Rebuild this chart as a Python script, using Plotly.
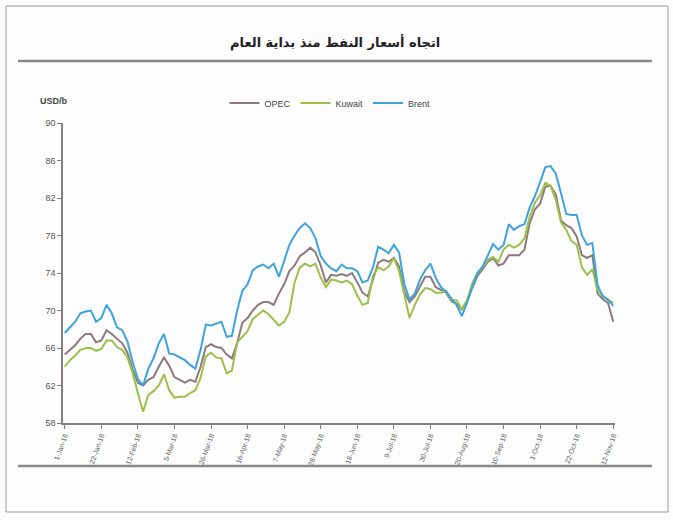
import pandas as pd
import plotly.graph_objects as go

# Dates: one reading every 3 days from 1 Jan 2018
dates = pd.date_range("2018-01-01", periods=106, freq="3D")

brent = [67.6, 68.2, 68.8, 69.7, 69.9, 70.0, 68.8, 69.2, 70.6, 69.7,
         68.2, 67.9, 66.7, 64.5, 62.7, 62.0, 63.8, 64.9, 66.5, 67.5,
         65.4, 65.3, 65.0, 64.7, 64.2, 63.8, 65.8, 68.5, 68.4, 68.6,
         68.8, 67.2, 67.3, 70.0, 72.1, 72.8, 74.3, 74.7, 74.9, 74.5,
         75.0, 73.6, 75.3, 77.0, 78.0, 78.8, 79.3, 78.8, 77.7, 75.8,
         75.0, 74.5, 74.2, 74.9, 74.5, 74.5, 74.2, 73.0, 73.2, 74.6,
         76.8, 76.5, 76.1, 77.0, 76.2, 72.8, 71.2, 71.8, 73.3, 74.3,
         75.0, 73.5, 72.5, 72.0, 71.3, 70.6, 69.4, 70.8, 72.5, 74.0,
         74.7, 75.9, 77.1, 76.5, 77.0, 79.2, 78.6, 79.0, 79.2, 81.0,
         82.2, 83.7, 85.3, 85.4, 84.6, 82.5, 80.3, 80.2, 80.2, 78.0,
         77.0, 77.2, 72.7, 71.5, 71.1, 70.5]

opec = [65.3, 65.8, 66.3, 67.0, 67.5, 67.5, 66.6, 66.8, 67.9, 67.5,
        67.0, 66.5, 65.5, 63.7, 62.3, 62.0, 62.6, 62.9, 64.0, 65.0,
        64.1, 62.9, 62.6, 62.3, 62.6, 62.4, 64.0, 66.1, 66.4, 66.1,
        66.0, 65.3, 64.9, 66.5, 68.7, 69.2, 70.0, 70.6, 70.9, 70.9,
        70.6, 71.8, 72.8, 74.2, 74.8, 75.8, 76.2, 76.7, 76.2, 74.8,
        73.0, 73.8, 73.7, 73.9, 73.7, 74.0, 73.0, 71.9, 71.5, 73.3,
        75.1, 75.4, 75.2, 75.6, 74.7, 72.0, 70.9, 71.5, 72.5, 73.6,
        73.6, 72.5, 72.2, 71.9, 71.0, 70.7, 70.1, 71.0, 72.4, 73.7,
        74.4, 75.2, 75.6, 74.8, 75.0, 75.9, 75.9, 75.9, 76.5, 79.3,
        80.8, 81.4, 83.2, 83.3, 82.4, 79.6, 79.1, 78.8, 77.9, 75.9,
        75.6, 75.9, 71.8, 71.2, 70.8, 68.8]

kuwait = [64.0, 64.7, 65.2, 65.8, 66.0, 66.0, 65.7, 65.9, 66.8, 66.8,
          66.1, 65.8, 65.0, 63.3, 61.2, 59.2, 61.0, 61.4, 62.0, 63.2,
          61.5, 60.7, 60.8, 60.8, 61.2, 61.5, 62.8, 65.1, 65.5, 65.0,
          64.9, 63.3, 63.6, 66.6, 67.2, 67.8, 69.1, 69.6, 70.0, 69.6,
          69.0, 68.4, 68.8, 69.8, 73.0, 74.6, 75.0, 74.7, 75.0, 73.5,
          72.5, 73.3, 73.2, 73.0, 73.2, 72.8, 71.6, 70.6, 70.8, 73.7,
          74.6, 74.3, 74.7, 75.6, 74.2, 71.6, 69.2, 70.6, 71.7, 72.4,
          72.3, 71.9, 71.9, 72.1, 71.1, 71.1, 70.1, 71.1, 72.9, 74.0,
          74.6, 75.4, 75.7, 75.2, 76.5, 77.0, 76.7, 77.0, 77.7, 80.0,
          81.5, 82.3, 83.6, 83.3, 81.8, 79.4, 78.6, 77.4, 77.0, 74.6,
          73.8, 74.4, 72.2, 71.6, 71.2, 70.8]

series_names = ["OPEC", "Kuwait", "Brent"]
series_colors = ["#8c7a7e", "#9dc04a", "#3fa3dc"]
y_ticks = [58, 62, 66, 70, 74, 78, 82, 86, 90]

title_text = "اتجاه أسعار النفط منذ بداية العام"
unit_text = "USD/b"

W, H = 673, 520
L, R, T, B = 63, 615, 123, 423  # plot area pixel bounds


def px(x):
    return (x - L) / (R - L)


def py(y):
    return (B - y) / (B - T)


fig = go.Figure()
for name, vals, col in zip(series_names, [opec, kuwait, brent], series_colors):
    fig.add_trace(go.Scatter(x=dates, y=vals, name=name, mode="lines",
                             line=dict(color=col, width=2)))

axis_col = "#8a7f7f"
fig.update_layout(
    width=W, height=H,
    margin=dict(l=L, r=W - R, t=T, b=H - B, pad=0),
    paper_bgcolor="#fdfdfd", plot_bgcolor="#fdfdfd",
    font=dict(family="Liberation Sans Narrow, Liberation Sans, Arial", color="#555555", size=9),
    showlegend=True,
    legend=dict(orientation="h", x=px(330), y=py(103), xanchor="center", yanchor="middle",
                font=dict(size=9, color="#444444"), bgcolor="rgba(0,0,0,0)",
                itemwidth=30, tracegroupgap=0),
    xaxis=dict(type="date", range=["2017-12-31", "2018-11-13"],
               tick0="2018-01-01", dtick=21 * 86400000, tickformat="%-d-%b-%y",
               tickangle=-70, tickfont=dict(size=7, color="#666666"),
               showgrid=False, zeroline=False, showline=True, linecolor=axis_col,
               linewidth=1.5, ticks="outside", ticklen=4, tickcolor=axis_col),
    yaxis=dict(range=[58, 90], tickvals=y_ticks, showgrid=False, zeroline=False,
               showline=True, linecolor=axis_col, linewidth=1.5, ticks="outside",
               ticklen=4, tickcolor=axis_col, tickfont=dict(size=9, color="#555555")),
    shapes=[
        dict(type="rect", xref="paper", yref="paper", x0=px(6), x1=px(668), y0=py(512), y1=py(6),
             line=dict(color="#9a9a9a", width=1)),
        dict(type="line", xref="paper", yref="paper", x0=px(18), x1=px(652), y0=py(61), y1=py(61),
             line=dict(color="#8a8a8a", width=2.5)),
        dict(type="line", xref="paper", yref="paper", x0=px(18), x1=px(652), y0=py(466), y1=py(466),
             line=dict(color="#8a8a8a", width=2.5)),
    ],
    annotations=[
        dict(text="<b>" + title_text + "</b>", xref="paper", yref="paper", x=px(335), y=py(42),
             xanchor="center", yanchor="middle", showarrow=False,
             font=dict(family="DejaVu Sans", size=13, color="#222222")),
        dict(text="<b>" + unit_text + "</b>", xref="paper", yref="paper", x=px(54), y=py(101),
             xanchor="center", yanchor="middle", showarrow=False,
             font=dict(size=9, color="#444444")),
    ],
)

fig.write_html("out.html", config={"displayModeBar": False},
               post_script="document.body.style.margin='0';document.body.style.overflow='hidden';")
